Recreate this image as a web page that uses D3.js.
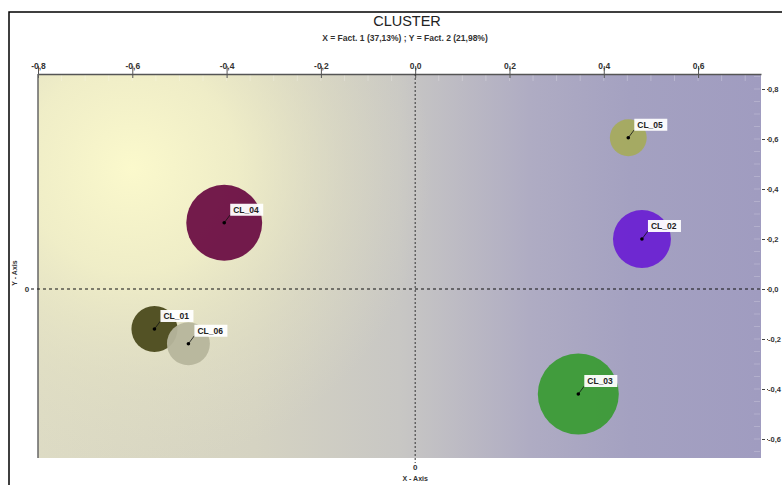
<!DOCTYPE html>
<html><head><meta charset="utf-8">
<script src="https://cdn.jsdelivr.net/npm/d3@7"></script>
<style>
html,body{margin:0;padding:0;background:#fff;}
svg{display:block;font-family:Arial,"Liberation Sans",sans-serif;}
</style></head>
<body>
<svg id="chart" width="782" height="485"></svg>
<script>
const clusters = ["CL_04","CL_01","CL_06","CL_05","CL_02","CL_03"];
const factor1 = [-0.405,-0.553,-0.481,0.452,0.481,0.346];
const factor2 = [0.265,-0.160,-0.219,0.605,0.200,-0.420];
const sizes = [14.4,5.3,4.6,3.4,8.4,16.4];
const colors = ["#6b0f45","#4b4a1c","#b6b59c","#a5ab5e","#6c22d2","#3b9b36"];
const xTicks = [-0.8,-0.6,-0.4,-0.2,0.0,0.2,0.4,0.6];
const yTicks = [0.8,0.6,0.4,0.2,0.0,-0.2,-0.4,-0.6];
const title = "CLUSTER";
const subtitle = "X = Fact. 1 (37,13%) ; Y = Fact. 2 (21,98%)";

const svg = d3.select("#chart");
const L = 38, R = 761, T = 74, B = 458;
const x = d3.scaleLinear().domain([-0.8, 0.7335]).range([L, R]);
const y = d3.scaleLinear().domain([-0.676, 0.86]).range([B, T]);
const r = d3.scaleSqrt().domain([0, 16.4]).range([0, 40.5]);
const fmt = v => d3.format(".1f")(v).replace(".", ",").replace("−","-");

// frame
svg.append("path").attr("d","M9,485 L9,12 L782,12").attr("fill","none").attr("stroke","#000").attr("stroke-width",1.5);

const defs = svg.append("defs");
const lg = defs.append("linearGradient").attr("id","lin").attr("gradientUnits","userSpaceOnUse")
  .attr("x1",L).attr("x2",R).attr("y1",0).attr("y2",0);
[[0,"#dddbc4"],[0.3,"#d5d3c2"],[0.5,"#c8c7c4"],[0.68,"#afacc3"],[0.82,"#a4a1c1"],[1,"#a09cc0"]]
  .forEach(s=>lg.append("stop").attr("offset",s[0]).attr("stop-color",s[1]));
const rg = defs.append("radialGradient").attr("id","rad").attr("gradientUnits","userSpaceOnUse")
  .attr("cx",132).attr("cy",168).attr("r",300);
[[0,"#fbf9cc",1],[0.35,"#f3f1c8",0.85],[0.7,"#e6e4c4",0.4],[1,"#e0dec4",0]]
  .forEach(s=>rg.append("stop").attr("offset",s[0]).attr("stop-color",s[1]).attr("stop-opacity",s[2]));

svg.append("rect").attr("x",L).attr("y",T).attr("width",R-L).attr("height",B-T).attr("fill","url(#lin)");
svg.append("rect").attr("x",L).attr("y",T).attr("width",R-L).attr("height",B-T).attr("fill","url(#rad)");

// faint minor ticks
const minor = d3.range(-0.8, 0.73, 0.05);
svg.append("g").selectAll("line").data(minor).join("line")
  .attr("x1",d=>x(d)).attr("x2",d=>x(d)).attr("y1",T+1).attr("y2",T+7)
  .attr("stroke","#fff").attr("stroke-opacity",0.25);
svg.append("g").selectAll("line").data(d3.range(-0.65,0.86,0.05)).join("line")
  .attr("x1",R-7).attr("x2",R-1).attr("y1",d=>y(d)).attr("y2",d=>y(d))
  .attr("stroke","#fff").attr("stroke-opacity",0.2);

// top axis
const xa = svg.append("g").attr("transform",`translate(0,${T})`)
  .call(d3.axisTop(x).tickValues(xTicks).tickFormat(fmt).tickSize(9).tickSizeOuter(0));
xa.select(".domain").attr("stroke","#555").attr("stroke-width",1.5);
xa.selectAll(".tick line").attr("stroke","#555").attr("y1",4).attr("y2",-8);
xa.selectAll("text").attr("font-size",8.5).attr("font-weight","bold").attr("fill","#333").attr("dy","-0.1em").attr("y",-4);

// left axis line
svg.append("line").attr("x1",L).attr("x2",L).attr("y1",T).attr("y2",B).attr("stroke","#666").attr("stroke-width",1.5);

// right axis
const ya = svg.append("g").attr("transform",`translate(${R},0)`)
  .call(d3.axisRight(y).tickValues(yTicks).tickFormat(fmt).tickSize(7).tickSizeOuter(0));
ya.select(".domain").remove();
ya.selectAll(".tick line").attr("stroke","#444").attr("stroke-dasharray","3,2").attr("x1",1);
ya.selectAll("text").attr("font-size",7.5).attr("font-weight","bold").attr("fill","#333").attr("x",7);

// zero lines
svg.append("line").attr("x1",31).attr("x2",R).attr("y1",y(0)).attr("y2",y(0))
  .attr("stroke","#111").attr("stroke-width",1.2).attr("stroke-dasharray","3,3");
svg.append("line").attr("x1",x(0)).attr("x2",x(0)).attr("y1",T).attr("y2",B+5)
  .attr("stroke","#333").attr("stroke-width",1).attr("stroke-dasharray","2,2");
svg.append("text").attr("x",27).attr("y",y(0)+3).attr("text-anchor","middle").attr("font-size",8).attr("font-weight","bold").attr("fill","#333").text("0");
svg.append("text").attr("x",x(0)).attr("y",470).attr("text-anchor","middle").attr("font-size",8).attr("font-weight","bold").attr("fill","#333").text("0");
svg.append("text").attr("x",x(0)).attr("y",481).attr("text-anchor","middle").attr("font-size",7).attr("font-weight","bold").attr("fill","#333").text("X - Axis");
svg.append("text").attr("transform",`translate(17,${y(0)-16}) rotate(-90)`).attr("text-anchor","middle").attr("font-size",7).attr("font-weight","bold").attr("fill","#333").text("Y - Axis");

// titles
svg.append("text").attr("x",407).attr("y",26).attr("text-anchor","middle").attr("font-size",14.5).attr("fill","#222").text(title);
svg.append("text").attr("x",405).attr("y",41).attr("text-anchor","middle").attr("font-size",8.5).attr("font-weight","bold").attr("fill","#333").text(subtitle);

// bubbles
const data = clusters.map((c,i)=>({name:c,x:factor1[i],y:factor2[i],s:sizes[i],c:colors[i]}));
const g = svg.append("g");
g.selectAll("circle.b").data(data).join("circle").attr("class","b")
  .attr("cx",d=>x(d.x)).attr("cy",d=>y(d.y)).attr("r",d=>r(d.s))
  .attr("fill",d=>d.c).attr("fill-opacity",0.95);
const lab = g.selectAll("g.l").data(data).join("g").attr("class","l")
  .attr("transform",d=>`translate(${x(d.x)},${y(d.y)})`);
lab.append("line").attr("x1",0).attr("y1",0).attr("x2",6).attr("y2",-8).attr("stroke","#111").attr("stroke-width",0.8);
lab.append("rect").attr("x",6).attr("y",-19).attr("width",33).attr("height",12).attr("fill","#fff").attr("fill-opacity",0.95);
lab.append("text").attr("x",9).attr("y",-10).attr("font-size",8.5).attr("font-weight","bold").attr("fill","#222").text(d=>d.name);
lab.append("circle").attr("r",1.8).attr("fill","#000");
</script>
</body></html>
